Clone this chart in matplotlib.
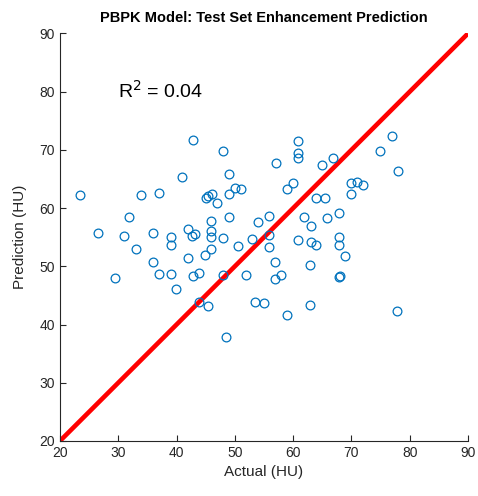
import matplotlib
matplotlib.use("Agg")
import matplotlib.pyplot as plt

plt.rcParams['font.family'] = ['Liberation Sans', 'DejaVu Sans']

actual = [42.8, 40.9, 23.4, 33.9, 37.0, 31.8, 26.5, 31.0, 36.0, 39.0, 39.0, 42.0,
          42.6, 43.2, 33.0, 36.0, 42.0, 29.4, 37.0, 39.0, 42.8, 43.8, 39.9, 43.8,
          45.4, 48.0, 60.8, 60.8, 60.8, 57.0, 64.9, 49.0, 50.0, 51.0, 49.0, 45.0,
          45.4, 46.1, 46.9, 58.9, 60.0, 63.9, 65.5, 49.0, 54.0, 55.8, 61.9, 63.1,
          65.8, 45.9, 45.9, 45.9, 48.0, 52.9, 55.8, 50.5, 55.8, 45.9, 44.9, 60.8,
          63.1, 63.9, 56.9, 48.0, 51.9, 62.9, 56.9, 57.9, 53.4, 55.0, 58.9, 62.9,
          48.5, 76.9, 74.9, 66.8, 78.0, 69.9, 70.9, 72.0, 69.9, 67.9, 67.9, 67.9,
          68.9, 67.9, 68.0, 77.8]
predicted = [71.7, 65.4, 62.3, 62.3, 62.6, 58.5, 55.7, 55.2, 55.7, 55.1, 53.7, 56.4,
             55.2, 55.6, 53.0, 50.8, 51.4, 48.0, 48.7, 48.7, 48.4, 48.9, 46.1, 43.9,
             43.2, 69.8, 71.5, 69.5, 68.6, 67.8, 67.4, 65.9, 63.5, 63.3, 62.4, 61.8,
             62.1, 62.4, 60.9, 63.3, 64.3, 61.8, 61.8, 58.5, 57.6, 58.7, 58.5, 56.9,
             58.3, 57.8, 56.1, 55.1, 54.9, 54.7, 55.4, 53.5, 53.3, 53.0, 52.0, 54.5,
             54.2, 53.7, 50.8, 48.5, 48.5, 50.2, 47.8, 48.5, 43.9, 43.7, 41.6, 43.4,
             37.9, 72.4, 69.8, 68.6, 66.4, 64.3, 64.5, 64.0, 62.4, 59.2, 55.1, 53.7,
             51.8, 48.2, 48.4, 42.3]
identity = [20, 90]
ticks = [20, 30, 40, 50, 60, 70, 80, 90]

fig = plt.figure(figsize=(4.78, 4.96), dpi=100)
ax = fig.add_axes([0.1255, 0.111, 0.8536, 0.8215])

ax.plot(actual, predicted, 'o', mfc='none', mec=(0, 0.447, 0.741), ms=6.3, mew=0.9,
        linestyle='none', zorder=3)
ax.plot(identity, identity, color='red', lw=3.3, zorder=2, solid_capstyle='butt')

ax.set_xlim(20, 90)
ax.set_ylim(20, 90)
ax.set_xticks(ticks)
ax.set_yticks(ticks)
for s in ['top', 'right']:
    ax.spines[s].set_visible(False)
for s in ['left', 'bottom']:
    ax.spines[s].set_color('#262626')
    ax.spines[s].set_linewidth(0.8)
ax.tick_params(direction='in', length=4, width=0.8, colors='#262626',
               labelsize=10, labelcolor='#262626')
ax.set_xlabel('Actual (HU)', fontsize=11, color='#262626')
ax.set_ylabel('Prediction (HU)', fontsize=11, color='#262626', labelpad=9)
ax.set_title('PBPK Model: Test Set Enhancement Prediction', fontsize=10.5,
             fontweight='bold', color='#000000', pad=8)
ax.text(30, 80.2, r'R$^2$ = 0.04', fontsize=14, va='center', ha='left', color='#000000')

fig.savefig('out.png', dpi=100)
